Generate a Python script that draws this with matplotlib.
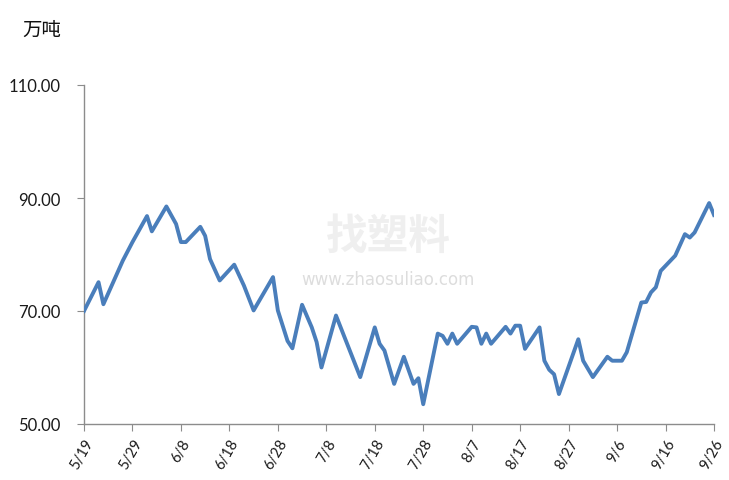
import matplotlib
matplotlib.use("Agg")
import matplotlib.pyplot as plt
import pandas as pd

# data (vertex dates and values, 万吨)
dates = ["5/19", "5/22", "5/23", "5/27", "5/29", "6/1", "6/2", "6/5", "6/7", "6/8",
         "6/9", "6/12", "6/13", "6/14", "6/16", "6/19", "6/21", "6/23", "6/27", "6/28",
         "6/30", "7/1", "7/3", "7/5", "7/6", "7/7", "7/10", "7/15", "7/18", "7/19",
         "7/20", "7/22", "7/24", "7/26", "7/27", "7/28", "7/31", "8/1", "8/2", "8/3",
         "8/4", "8/7", "8/8", "8/9", "8/10", "8/11", "8/14", "8/15", "8/16", "8/17",
         "8/18", "8/21", "8/22", "8/23", "8/24", "8/25", "8/29", "8/30", "9/1", "9/4",
         "9/5", "9/7", "9/8", "9/11", "9/12", "9/13", "9/14", "9/15", "9/18", "9/20",
         "9/21", "9/22", "9/25", "9/26"]
values = [70.0, 75.1, 71.2, 78.9, 82.2, 86.8, 84.1, 88.5, 85.4, 82.2,
          82.2, 84.9, 83.3, 79.2, 75.4, 78.2, 74.5, 70.1, 76.0, 70.1,
          64.7, 63.4, 71.1, 67.1, 64.5, 60.0, 69.2, 58.3, 67.1, 64.2,
          63.0, 57.1, 61.9, 57.1, 58.1, 53.5, 66.0, 65.6, 64.2, 66.0,
          64.2, 67.2, 67.1, 64.2, 66.0, 64.2, 67.2, 66.0, 67.4, 67.4,
          63.3, 67.1, 61.2, 59.6, 58.8, 55.3, 65.0, 61.2, 58.3, 61.9,
          61.2, 61.2, 62.7, 71.5, 71.6, 73.3, 74.2, 77.1, 79.8, 83.6,
          83.0, 83.9, 89.1, 87.0]
tick_labels = ["5/19", "5/29", "6/8", "6/18", "6/28", "7/8", "7/18", "7/28",
               "8/7", "8/17", "8/27", "9/6", "9/16", "9/26"]
y_ticks = [50, 70, 90, 110]
unit_label = "万吨"
watermark_logo = "找塑料"
watermark_url = "www.zhaosuliao.com"

YEAR = 2021
x = pd.to_datetime([f"{YEAR}/{d}" for d in dates], format="%Y/%m/%d")
xt = pd.to_datetime([f"{YEAR}/{d}" for d in tick_labels], format="%Y/%m/%d")

fig = plt.figure(figsize=(7.29, 4.81), dpi=100)
ax = fig.add_axes([84/729, 1-425/481, 630/729, (425-86)/481])

ax.plot(x, values, color="#4A7EBB", lw=2.8, solid_joinstyle="round", zorder=3)

ax.set_xlim(xt[0], xt[-1])
ax.set_ylim(50, 110)
ax.set_yticks(y_ticks)
ax.set_yticklabels([f"{v:.2f}" for v in y_ticks], fontsize=12, family=["Lato", "DejaVu Sans"], color="#1a1a1a")
ax.set_xticks(xt)
ax.set_xticklabels(tick_labels, rotation=60, ha="right", va="top", rotation_mode="anchor",
                   fontsize=10.5, family=["Lato", "DejaVu Sans"], color="#1a1a1a")

for s in ["top", "right"]:
    ax.spines[s].set_visible(False)
for s in ["left", "bottom"]:
    ax.spines[s].set_color("#8c8c8c")
    ax.spines[s].set_linewidth(1.0)
ax.tick_params(axis="y", direction="out", length=5, color="#8c8c8c", pad=12)
ax.tick_params(axis="x", direction="out", length=5, color="#8c8c8c", pad=4)

fig.text(22/729, 1-30/481, unit_label, fontsize=14, family=["Noto Sans CJK SC", "DejaVu Sans"],
         ha="left", va="center", color="#111111")

# watermark
fig.text(388/729, 1-237/481, watermark_logo, fontsize=30, family=["Noto Sans CJK SC", "DejaVu Sans"],
         ha="center", va="center", color="#efefef", fontweight="bold", zorder=0)
fig.text(388/729, 1-280/481, watermark_url, fontsize=12, family=["DejaVu Sans"],
         ha="center", va="center", color="#dddddd", zorder=0)

fig.savefig("out.png", dpi=100)
